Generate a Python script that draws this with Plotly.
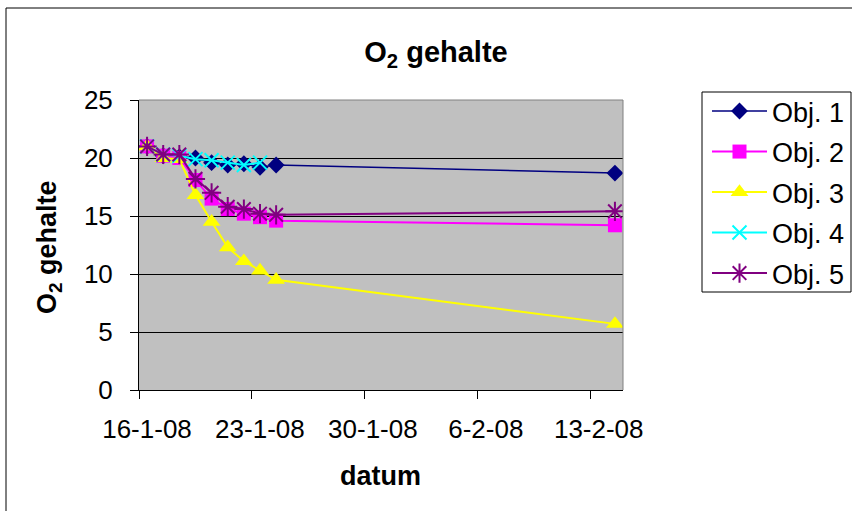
import plotly.graph_objects as go
import pandas as pd

dates = ["2008-01-16", "2008-01-17", "2008-01-18", "2008-01-19", "2008-01-20",
         "2008-01-21", "2008-01-22", "2008-01-23", "2008-01-24", "2008-02-14"]
obj1 = [21.0, 20.2, 20.1, 20.0, 19.6, 19.4, 19.5, 19.2, 19.4, 18.7]
obj2 = [21.0, 20.2, 20.0, 18.1, 16.5, 15.6, 15.2, 14.9, 14.6, 14.2]
obj3 = [21.0, 20.0, 19.9, 16.8, 14.5, 12.3, 11.1, 10.3, 9.5, 5.7]
obj4 = [21.0, 20.3, 20.2, 19.9, 19.8, 19.6, 19.4, 19.6]
obj5 = [21.0, 20.3, 20.3, 18.2, 17.0, 15.8, 15.6, 15.2, 15.1, 15.4]
names = ["Obj. 1", "Obj. 2", "Obj. 3", "Obj. 4", "Obj. 5"]

# Excel date axis "between tick marks": points sit in the middle of each day slot
x_all = pd.to_datetime(dates) + pd.Timedelta(hours=12)

FONT = "Arial, Liberation Sans, sans-serif"
W, H = 852, 511
ML, MR, MT, MB = 139, 229, 100, 121
PW, PH = W - ML - MR, H - MT - MB


def px_x(p):
    return (p - ML) / PW


def px_y(p):
    return (H - MB - p) / PH


series = [
    (names[0], obj1, "#000080", "diamond", 13, 1.5),
    (names[1], obj2, "#FF00FF", "square", 14, 2),
    (names[2], obj3, "#FFFF00", "triangle-up", 15.5, 2),
    (names[3], obj4, "#00FFFF", "x-thin-open", 14, 2),
    (names[4], obj5, "#800080", "asterisk-open", 16, 2),
]

fig = go.Figure()
for i, (nm, vals, col, sym, sz, lw) in enumerate(series):
    fig.add_trace(go.Scatter(
        x=x_all[:len(vals)], y=vals, name=nm, mode="lines+markers",
        line=dict(color=col, width=lw),
        marker=dict(symbol=sym, size=sz, color=col,
                    line=dict(color=col, width=2 if "open" in sym else 0)),
        legendgroup=f"g{i}",
    ))

fig.update_layout(
    width=W, height=H,
    margin=dict(l=ML, r=MR, t=MT, b=MB, pad=0, autoexpand=False),
    paper_bgcolor="white", plot_bgcolor="#C0C0C0",
    font=dict(family=FONT, color="black", size=26),
    title=dict(text="<b>O<sub>2</sub> gehalte</b>", x=436 / W, xref="container",
               xanchor="center", y=1 - 52 / H, yref="container", yanchor="middle",
               font=dict(family=FONT, size=29, color="black")),
    showlegend=True,
    legend=dict(x=707 / W, xref="container", xanchor="left",
                y=1 - 87 / H, yref="container", yanchor="top",
                bgcolor="rgba(0,0,0,0)", borderwidth=0,
                font=dict(family=FONT, size=27, color="black"),
                tracegroupgap=2.4, itemwidth=55),
)

fig.update_xaxes(
    type="date", range=["2008-01-16", "2008-02-15"],
    tick0="2008-01-16", dtick=7 * 86400000, tickformat="%-d-%-m-%y",
    ticks="outside", ticklen=8, tickcolor="black", tickwidth=1,
    showline=True, linecolor="black", linewidth=1, mirror=False,
    showgrid=False, zeroline=False,
    tickfont=dict(family=FONT, size=26, color="black"),
    ticklabelshift=8, ticklabelstandoff=8,
)
fig.update_yaxes(
    range=[0, 25], dtick=5, tick0=0,
    ticks="outside", ticklen=8, tickcolor="black", tickwidth=1,
    showline=True, linecolor="black", linewidth=1,
    showgrid=True, gridcolor="black", gridwidth=1, zeroline=False,
    tickfont=dict(family=FONT, size=26, color="black"),
    ticklabelstandoff=12,
)

shapes = [
    # chart area border
    dict(type="rect", xref="paper", yref="paper",
         x0=px_x(6), x1=px_x(870), y0=px_y(530), y1=px_y(8),
         line=dict(color="black", width=1), fillcolor="rgba(0,0,0,0)", layer="below"),
    # plot area border top/right (gray)
    dict(type="path", xref="paper", yref="paper",
         path="M 0,1 L 1,1 L 1,0", line=dict(color="#808080", width=1), layer="above"),
    # legend box
    dict(type="rect", xref="paper", yref="paper",
         x0=px_x(702), x1=px_x(851), y0=px_y(292), y1=px_y(92),
         line=dict(color="black", width=1), fillcolor="white", layer="below"),
]
fig.update_layout(shapes=shapes)

fig.add_annotation(text="<b>O<sub>2</sub> gehalte</b>", xref="paper", yref="paper",
                   x=px_x(49), y=px_y(247), xanchor="center", yanchor="middle",
                   textangle=-90, showarrow=False,
                   font=dict(family=FONT, size=27, color="black"))
fig.add_annotation(text="<b>datum</b>", xref="paper", yref="paper",
                   x=px_x(380), y=px_y(476), xanchor="center", yanchor="middle",
                   showarrow=False, font=dict(family=FONT, size=27, color="black"))

fig.write_html("out.html")
